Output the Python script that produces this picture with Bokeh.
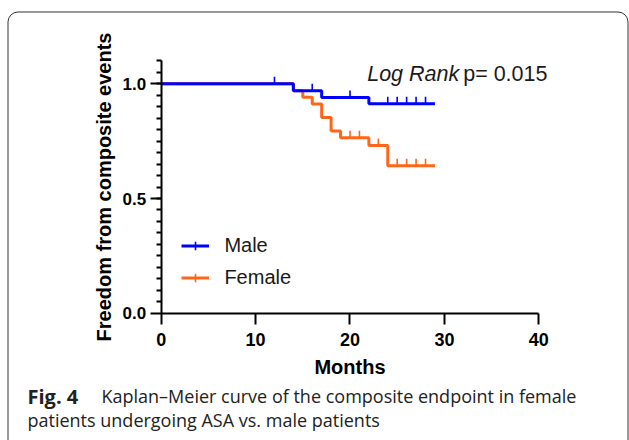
import math
from bokeh.plotting import figure
from bokeh.models import (Range1d, FixedTicker, Label, Legend, LegendItem,
                          BoxAnnotation, PrintfTickFormatter)
from bokeh.embed import file_html
from bokeh.resources import INLINE

# ---------------- data ----------------
male_times = [0, 14, 17, 22, 29]
male_surv = [1.0, 0.970, 0.940, 0.913, 0.913]
male_censor_times = [12, 16, 20, 24, 25, 26, 27, 28]
male_censor_surv = [1.0, 0.970, 0.940, 0.913, 0.913, 0.913, 0.913, 0.913]

female_times = [0, 14, 15, 16, 17, 18, 19, 22, 24, 29]
female_surv = [1.0, 0.970, 0.941, 0.912, 0.853, 0.794, 0.765, 0.731, 0.643, 0.643]
female_censor_times = [20, 21, 23, 25, 26, 27, 28]
female_censor_surv = [0.765, 0.765, 0.731, 0.643, 0.643, 0.643, 0.643]

series_names = ["Male", "Female"]
x_ticks = [0, 10, 20, 30, 40]
y_ticks = [0.0, 0.5, 1.0]
y_minor_ticks = [0.05, 0.10, 0.15, 0.20, 0.25, 0.30, 0.35, 0.40, 0.45, 0.50,
                 0.55, 0.60, 0.65, 0.70, 0.75, 0.80, 0.85, 0.90, 0.95, 1.00,
                 1.05, 1.10]
x_bounds = (0, 40)
y_bounds = (0, 1.1)
x_title = "Months"
y_title = "Freedom from composite events"
p_label_italic = "Log Rank"
p_label_rest = "p= 0.015"
caption_bold = "Fig. 4"
caption_line1 = "Kaplan\u2013Meier curve of the composite endpoint in female"
caption_line2 = "patients undergoing ASA vs. male patients"

# ---------------- style ----------------
BLUE = "#0000FF"
ORANGE = "#FF6619"
FONT = "Liberation Sans"
CAP_FONT = "Open Sans"
CENSOR_PX = 7             # censor tick length in pixels
CENSOR_SHIFT = 0.0153     # half a tick, in y units, so ticks rise from the curve

# the frame spans the whole canvas; the axes are pinned at x=0 / y=0
p = figure(width=629, height=440,
           x_range=Range1d(-17.023, 49.608), y_range=Range1d(-0.5549, 1.3631),
           output_backend="svg", toolbar_location=None, min_border=0)
p.outline_line_color = None
p.xgrid.visible = False
p.ygrid.visible = False
p.background_fill_color = "white"
p.border_fill_color = "white"

# curves
f_line = p.step(female_times, female_surv, mode="after", line_width=3, line_color=ORANGE)
p.scatter(x=female_censor_times, y=[s + CENSOR_SHIFT for s in female_censor_surv],
          marker="dash", angle=math.pi / 2, size=CENSOR_PX,
          line_color=ORANGE, line_width=1.6)
m_line = p.step(male_times, male_surv, mode="after", line_width=3, line_color=BLUE)
p.scatter(x=male_censor_times, y=[s + CENSOR_SHIFT for s in male_censor_surv],
          marker="dash", angle=math.pi / 2, size=CENSOR_PX,
          line_color=BLUE, line_width=1.6)

# legend-only censor symbols (not drawn in the plot itself)
m_leg = p.scatter(x=male_censor_times, y=male_censor_surv, marker="cross", size=9,
                  line_color=BLUE, line_width=1.6, visible=False)
f_leg = p.scatter(x=female_censor_times, y=female_censor_surv, marker="cross", size=9,
                  line_color=ORANGE, line_width=1.6, visible=False)

legend = Legend(items=[LegendItem(label=series_names[0], renderers=[m_line, m_leg]),
                       LegendItem(label=series_names[1], renderers=[f_line, f_leg])],
                location=(181.4, 150.6), orientation="vertical",
                glyph_width=28, glyph_height=21, label_height=21, spacing=9,
                label_standoff=15, padding=0, margin=0,
                border_line_color=None, background_fill_alpha=0,
                inactive_fill_alpha=0,
                label_text_font=FONT, label_text_font_size="20px",
                label_text_color="#1a1a1a")
p.add_layout(legend)

for ax in (p.xaxis[0], p.yaxis[0]):
    ax.fixed_location = 0
    ax.axis_line_width = 2
    ax.axis_line_color = "black"
    ax.major_tick_line_width = 2
    ax.major_tick_line_color = "black"
    ax.minor_tick_line_width = 2
    ax.minor_tick_line_color = "black"
    ax.major_tick_in = 0
    ax.major_tick_out = 11
    ax.minor_tick_in = 0
    ax.minor_tick_out = 5
    ax.major_label_text_font = FONT
    ax.major_label_text_font_style = "bold"
    ax.major_label_text_color = "black"
    ax.axis_label_text_font = FONT
    ax.axis_label_text_font_size = "20px"
    ax.axis_label_text_font_style = "bold"
    ax.axis_label_text_color = "black"

p.xaxis.bounds = x_bounds
p.yaxis.bounds = y_bounds
p.xaxis.major_label_text_font_size = "18px"
p.yaxis.major_label_text_font_size = "17px"
p.xaxis.ticker = FixedTicker(ticks=x_ticks, minor_ticks=[])
p.yaxis.ticker = FixedTicker(ticks=y_ticks, minor_ticks=y_minor_ticks)
p.yaxis.formatter = PrintfTickFormatter(format="%.1f")
p.xaxis.axis_label = x_title
p.yaxis.axis_label = y_title
p.xaxis.major_label_standoff = 9
p.yaxis.major_label_standoff = 4
p.xaxis.axis_label_standoff = 6
p.yaxis.axis_label_standoff = 5

# log rank annotation
p.add_layout(Label(x=21.82, y=1.0440, text=p_label_italic, text_font=FONT,
                   text_font_size="21.5px", text_font_style="italic",
                   text_color="#1a1a1a", text_baseline="alphabetic"))
p.add_layout(Label(x=21.82, y=1.0440, x_offset=96, text=p_label_rest, text_font=FONT,
                   text_font_size="21.5px", text_color="#1a1a1a",
                   text_baseline="alphabetic"))

# caption
p.add_layout(Label(x=-14.163, y=-0.3610, text=caption_bold,
                   text_font=CAP_FONT, text_font_size="20px", text_font_style="bold",
                   text_color="#222222", text_baseline="alphabetic"))
p.add_layout(Label(x=-6.324, y=-0.3610, text=caption_line1,
                   text_font=CAP_FONT, text_font_size="18px",
                   text_color="#222222", text_baseline="alphabetic"))
p.add_layout(Label(x=-14.163, y=-0.4656, text=caption_line2,
                   text_font=CAP_FONT, text_font_size="18px",
                   text_color="#222222", text_baseline="alphabetic"))

# rounded panel border
p.add_layout(BoxAnnotation(left=-16.228, right=49.45, top=1.3130, bottom=-0.75,
                           fill_alpha=0, line_color="#333333", line_alpha=1.0,
                           line_width=1, border_radius=10, level="overlay"))

open("out.html", "w").write(file_html(p, INLINE))
